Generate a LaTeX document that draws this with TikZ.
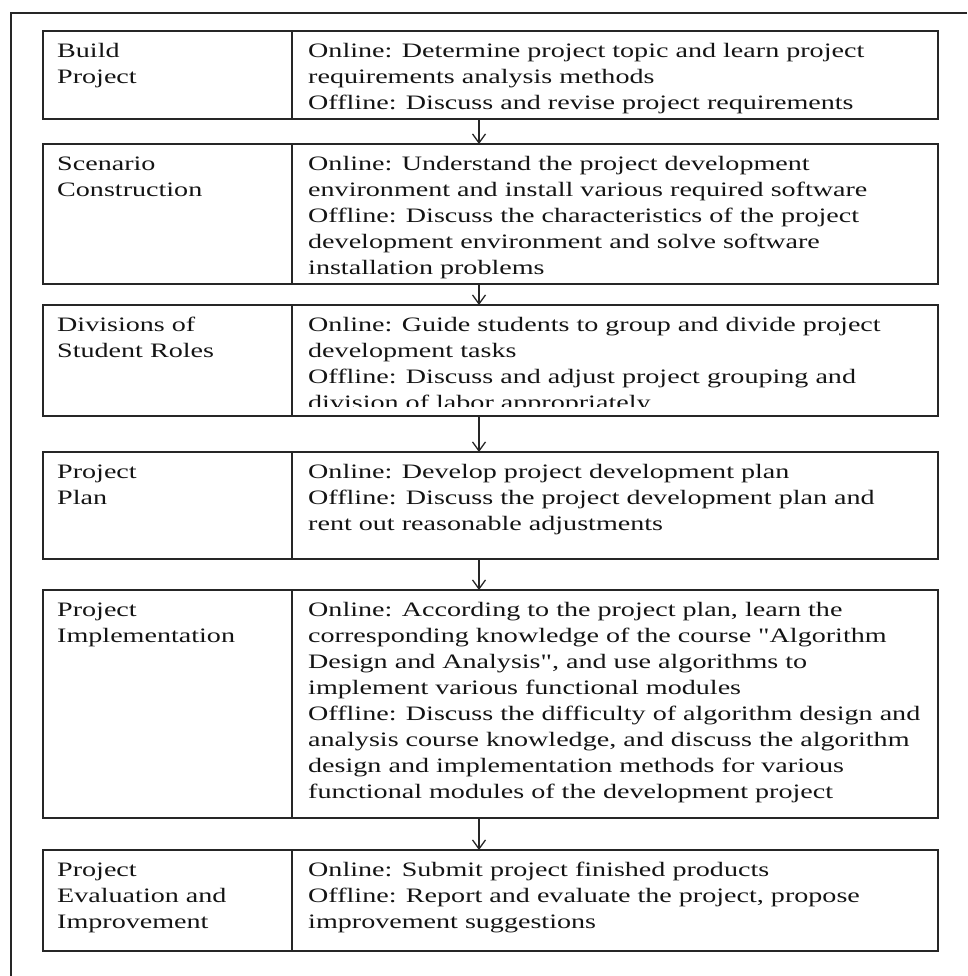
\documentclass[tikz,border=0pt]{standalone}
\usepackage{fontspec}
\setmainfont{Liberation Serif}[FakeStretch=1.37, Ligatures=TeXOff]
\usetikzlibrary{arrows.meta}
\tikzset{
  x=1pt, y=-1pt,
  frame/.style={draw=black!85, line width=1.5pt},
  rowbox/.style={draw=black!85, line width=1.4pt, inner sep=0pt, outer sep=0pt, anchor=north west, minimum width=895pt},
  divline/.style={draw=black!85, line width=1.4pt},
  txt/.style={inner sep=0pt, anchor=north west, align=left, text=black!92, font=\fontsize{20.5}{26}\selectfont},
  arr/.style={draw=black!85, line width=1.3pt, -{Straight Barb[length=9pt,width=13pt,line width=1.3pt]}},
}
\begin{document}
\begin{tikzpicture}
\useasboundingbox (0,0) rectangle (967,976);
% outer partial frame
\coordinate (fbl) at (11,976);
\coordinate (ftl) at (11,13);
\coordinate (ftr) at (967,13);
\draw[frame] (fbl) -- (ftl) -- (ftr);
% helper x positions
\coordinate (dx) at (292,0);
\coordinate (ax) at (479,0);
% rows
\node[rowbox, minimum height=88pt]  (row1) at (43,31)  {};
\node[rowbox, minimum height=140pt] (row2) at (43,144) {};
\node[rowbox, minimum height=111pt] (row3) at (43,305) {};
\node[rowbox, minimum height=107pt] (row4) at (43,452) {};
\node[rowbox, minimum height=228pt] (row5) at (43,590) {};
\node[rowbox, minimum height=101pt] (row6) at (43,850) {};
% dividers
\foreach \r in {row1,row2,row3,row4,row5,row6}{
  \draw[divline] (\r.north -| dx) -- (\r.south -| dx);
}
% arrows
\draw[arr] (row1.south -| ax) -- (row2.north -| ax);
\draw[arr] (row2.south -| ax) -- (row3.north -| ax);
\draw[arr] (row3.south -| ax) -- (row4.north -| ax);
\draw[arr] (row4.south -| ax) -- (row5.north -| ax);
\draw[arr] (row5.south -| ax) -- (row6.north -| ax);
% left texts (first baseline = top + 26; strut height 18.2)
\node[txt] (l1) at (57,38.8)  {\strut Build\\Project};
\node[txt] (l2) at (57,151.8) {\strut Scenario\\Construction};
\node[txt] (l3) at (57,312.8) {\strut Divisions of\\Student Roles};
\node[txt] (l4) at (57,459.8) {\strut Project\\Plan};
\node[txt] (l5) at (57,597.8) {\strut Project\\Implementation};
\node[txt] (l6) at (57,857.8) {\strut Project\\Evaluation and\\Improvement};
% right texts
\node[txt] (r1) at (308,38.8) {\strut Online: Determine project topic and learn project\\requirements analysis methods\\Offline: Discuss and revise project requirements};
\node[txt] (r2) at (308,151.8) {\strut Online: Understand the project development\\environment and install various required software\\Offline: Discuss the characteristics of the project\\development environment and solve software\\installation problems};
\begin{scope}
\clip (292,305) rectangle (938,406);
\node[txt] (r3) at (308,312.8) {\strut Online: Guide students to group and divide project\\development tasks\\Offline: Discuss and adjust project grouping and\\division of labor appropriately};
\end{scope}
\node[txt] (r4) at (308,459.8) {\strut Online: Develop project development plan\\Offline: Discuss the project development plan and\\rent out reasonable adjustments};
\node[txt] (r5) at (308,597.8) {\strut Online: According to the project plan, learn the\\corresponding knowledge of the course "Algorithm\\Design and Analysis", and use algorithms to\\implement various functional modules\\Offline: Discuss the difficulty of algorithm design and\\analysis course knowledge, and discuss the algorithm\\design and implementation methods for various\\functional modules of the development project};
\node[txt] (r6) at (308,857.8) {\strut Online: Submit project finished products\\Offline: Report and evaluate the project, propose\\improvement suggestions};
\end{tikzpicture}
\end{document}
